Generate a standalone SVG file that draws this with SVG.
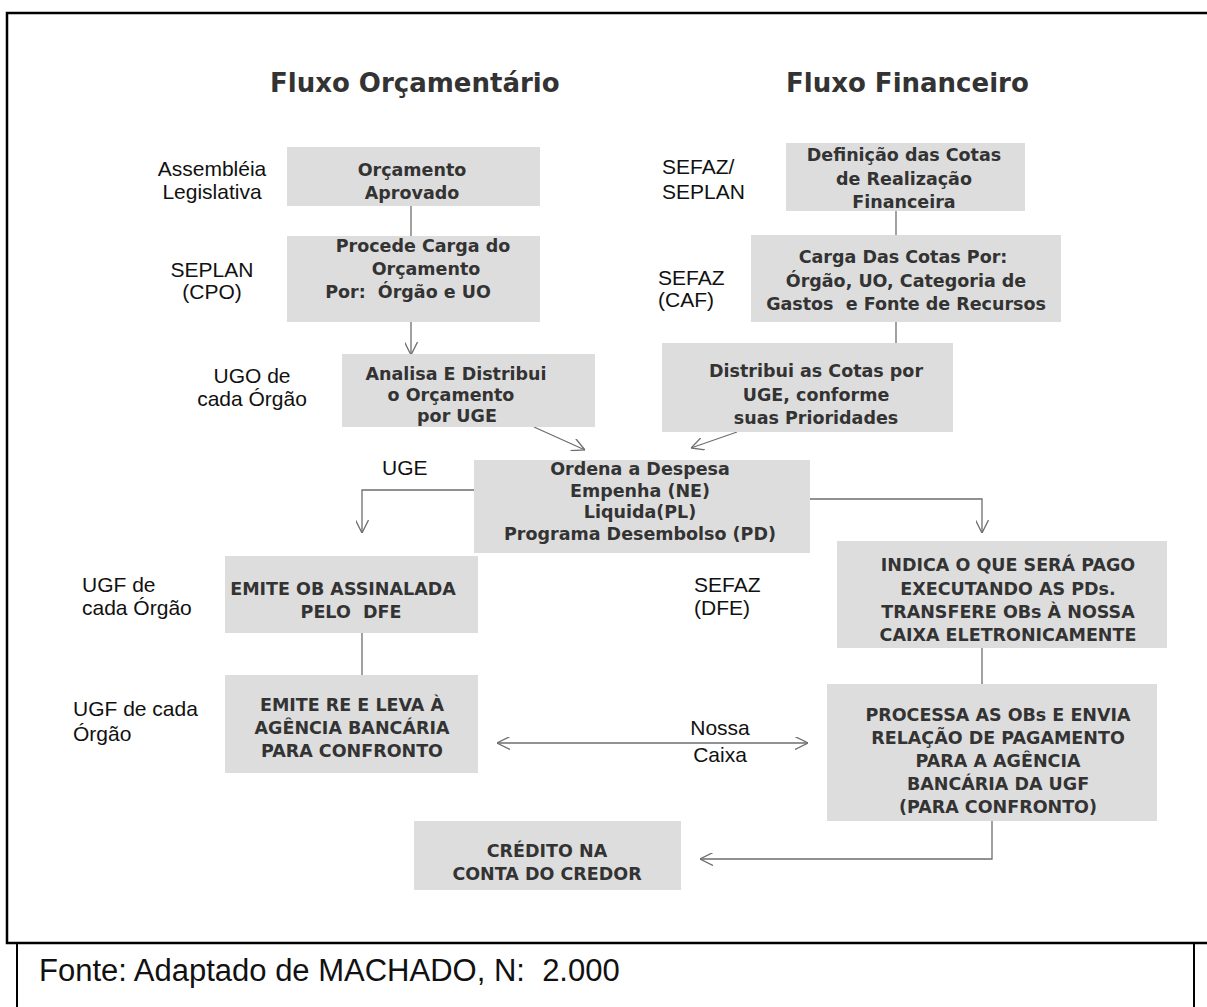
<svg xmlns="http://www.w3.org/2000/svg" width="1207" height="1007" viewBox="0 0 1207 1007">
<style>
.box{fill:#dddddd}
.bt{font-family:"DejaVu Sans",sans-serif;font-weight:bold;font-size:17.5px;fill:#333;text-anchor:middle;white-space:pre}
.lb{font-family:"Liberation Sans",Arial,sans-serif;font-size:21px;fill:#111}
.mid{text-anchor:middle}
.title{font-family:"DejaVu Sans",sans-serif;font-weight:bold;font-size:26px;fill:#333}
.cn{stroke:#6e6e6e;stroke-width:1.3;fill:none}
.frame{stroke:#000;stroke-width:2.5;fill:none}
.foot{font-family:"Liberation Sans",Arial,sans-serif;font-size:31px;fill:#111;white-space:pre}
</style>
<defs>
<marker id="ah" viewBox="0 0 12 12" refX="12" refY="6" markerWidth="13" markerHeight="13" markerUnits="userSpaceOnUse" orient="auto-start-reverse">
<path d="M0,0 L12,6 L0,12" fill="none" stroke="#6e6e6e" stroke-width="1.2"/>
</marker>
</defs>
<rect width="1207" height="1007" fill="#fff"/>
<g id="frame">
<path class="frame" d="M1210,13 H7 V943 H1210"/>
<path d="M17,943 V1007 M1194,943 V1007" stroke="#000" stroke-width="2" fill="none"/>
</g>
<g id="titles">
<text class="title" x="270" y="92">Fluxo Orçamentário</text>
<text class="title" x="786" y="92">Fluxo Financeiro</text>
</g>
<g id="connectors">
<path class="cn" d="M411,206 V236"/>
<path class="cn" d="M411,322 V355" marker-end="url(#ah)"/>
<path class="cn" d="M896,211 V235"/>
<path class="cn" d="M896,322 V343"/>
<path class="cn" d="M534,427 L585,450" marker-end="url(#ah)"/>
<path class="cn" d="M737,432 L691,448" marker-end="url(#ah)"/>
<path class="cn" d="M474,490 H362 V533" marker-end="url(#ah)"/>
<path class="cn" d="M810,499 H982 V533" marker-end="url(#ah)"/>
<path class="cn" d="M362,633 V675"/>
<path class="cn" d="M982,648 V684"/>
<path class="cn" d="M497,743 H808" marker-start="url(#ah)" marker-end="url(#ah)"/>
<path class="cn" d="M992,821 V859 H700" marker-end="url(#ah)"/>
</g>
<g id="labels">
<text class="lb mid" x="212" y="176">Assembléia</text>
<text class="lb mid" x="212" y="199">Legislativa</text>
<text class="lb mid" x="212" y="277">SEPLAN</text>
<text class="lb mid" x="212" y="299">(CPO)</text>
<text class="lb mid" x="252" y="383">UGO de</text>
<text class="lb mid" x="252" y="406">cada Órgão</text>
<text class="lb" x="382" y="475">UGE</text>
<text class="lb" x="82" y="592">UGF de</text>
<text class="lb" x="82" y="615">cada Órgão</text>
<text class="lb" x="73" y="716">UGF de cada</text>
<text class="lb" x="73" y="741">Órgão</text>
<text class="lb" x="662" y="174">SEFAZ/</text>
<text class="lb" x="662" y="199">SEPLAN</text>
<text class="lb" x="658" y="285">SEFAZ</text>
<text class="lb" x="658" y="307">(CAF)</text>
<text class="lb" x="694" y="592">SEFAZ</text>
<text class="lb" x="694" y="615">(DFE)</text>
<text class="lb mid" x="720" y="735">Nossa</text>
<text class="lb mid" x="720" y="762">Caixa</text>
</g>
<g id="n1"><rect class="box" x="287" y="147" width="253" height="59"/>
<text class="bt" x="412" y="176">Orçamento</text><text class="bt" x="412" y="199">Aprovado</text></g>
<g id="n2"><rect class="box" x="287" y="236" width="253" height="86"/>
<text class="bt" x="423" y="252">Procede Carga do</text><text class="bt" x="426" y="275">Orçamento</text><text class="bt" x="408" y="298" xml:space="preserve">Por:  Órgão e UO</text></g>
<g id="n3"><rect class="box" x="342" y="354" width="253" height="73"/>
<text class="bt" x="456" y="380">Analisa E Distribui</text><text class="bt" x="451" y="401">o Orçamento</text><text class="bt" x="457" y="422">por UGE</text></g>
<g id="n4"><rect class="box" x="786" y="143" width="239" height="68"/>
<text class="bt" x="904" y="161">Definição das Cotas</text><text class="bt" x="904" y="185">de Realização</text><text class="bt" x="904" y="208">Financeira</text></g>
<g id="n5"><rect class="box" x="751" y="235" width="310" height="87"/>
<text class="bt" x="903" y="263">Carga Das Cotas Por:</text><text class="bt" x="906" y="287">Órgão, UO, Categoria de</text><text class="bt" x="906" y="310" xml:space="preserve">Gastos  e Fonte de Recursos</text></g>
<g id="n6"><rect class="box" x="662" y="343" width="291" height="89"/>
<text class="bt" x="816" y="377">Distribui as Cotas por</text><text class="bt" x="816" y="401">UGE, conforme</text><text class="bt" x="816" y="424">suas Prioridades</text></g>
<g id="n7"><rect class="box" x="474" y="460" width="336" height="93"/>
<text class="bt" x="640" y="475">Ordena a Despesa</text><text class="bt" x="640" y="497">Empenha (NE)</text><text class="bt" x="640" y="518">Liquida(PL)</text><text class="bt" x="640" y="540">Programa Desembolso (PD)</text></g>
<g id="n8"><rect class="box" x="225" y="556" width="253" height="77"/>
<text class="bt" x="343" y="595">EMITE OB ASSINALADA</text><text class="bt" x="351" y="618" xml:space="preserve">PELO  DFE</text></g>
<g id="n9"><rect class="box" x="225" y="675" width="253" height="98"/>
<text class="bt" x="352" y="711">EMITE RE E LEVA À</text><text class="bt" x="352" y="734">AGÊNCIA BANCÁRIA</text><text class="bt" x="352" y="757">PARA CONFRONTO</text></g>
<g id="n10"><rect class="box" x="837" y="541" width="330" height="107"/>
<text class="bt" x="1008" y="571">INDICA O QUE SERÁ PAGO</text><text class="bt" x="1008" y="595">EXECUTANDO AS PDs.</text><text class="bt" x="1008" y="618">TRANSFERE OBs À NOSSA</text><text class="bt" x="1008" y="641">CAIXA ELETRONICAMENTE</text></g>
<g id="n11"><rect class="box" x="827" y="684" width="330" height="137"/>
<text class="bt" x="998" y="721">PROCESSA AS OBs E ENVIA</text><text class="bt" x="998" y="744">RELAÇÃO DE PAGAMENTO</text><text class="bt" x="998" y="767">PARA A AGÊNCIA</text><text class="bt" x="998" y="790">BANCÁRIA DA UGF</text><text class="bt" x="998" y="813">(PARA CONFRONTO)</text></g>
<g id="n12"><rect class="box" x="414" y="821" width="267" height="69"/>
<text class="bt" x="547" y="857">CRÉDITO NA</text><text class="bt" x="547" y="880">CONTA DO CREDOR</text></g>
<text class="foot" x="39" y="981" xml:space="preserve">Fonte: Adaptado de MACHADO, N:  2.000</text>
</svg>
